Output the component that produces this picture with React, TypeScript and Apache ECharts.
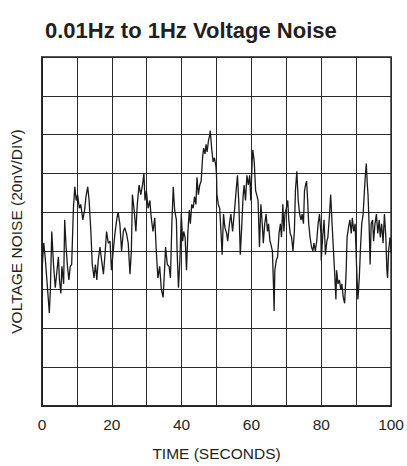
import React, { useEffect, useRef } from "react";
import * as echarts from "echarts";

const TITLE = "0.01Hz to 1Hz Voltage Noise";
const X_NAME = "TIME (SECONDS)";
const Y_NAME = "VOLTAGE NOISE (20nV/DIV)";
const X_LABELS = [0, 20, 40, 60, 80, 100];

const NOISE_0_32: [number, number][] = [
  [0, 70], [0.5, 84], [0.9, 77], [1.4, 65], [2.1, 48], [2.4, 60], [2.8, 90], [3.3, 73], [3.8, 61], [4.3, 70],
  [4.7, 77], [5.0, 65], [5.4, 58], [5.7, 72], [6.2, 63], [6.5, 96], [6.9, 82], [7.3, 72], [7.7, 65], [8.1, 72],
  [8.5, 73], [9.0, 102], [9.4, 113], [9.8, 106], [10.2, 109], [10.7, 102], [11.1, 104], [11.7, 96], [12.2, 101],
  [12.6, 108], [13.1, 113], [13.5, 106], [14.0, 90], [14.4, 73], [14.9, 66], [15.3, 73], [15.7, 65], [16.1, 75],
  [16.6, 82], [17.1, 75], [17.6, 68], [18.0, 77], [18.5, 90], [19.0, 84], [19.5, 85], [19.9, 70], [20.4, 80],
  [20.9, 89], [21.4, 96], [21.8, 100], [22.3, 94], [22.8, 80], [23.3, 90], [23.7, 92], [24.2, 89], [24.7, 84],
  [25.2, 68], [25.6, 80], [25.9, 109], [26.4, 101], [26.9, 90], [27.3, 104], [27.8, 114], [28.3, 109], [28.8, 114],
  [29.2, 120], [29.5, 106], [29.9, 111], [30.4, 102], [30.9, 106], [31.3, 97], [31.8, 90], [32.3, 97],
];
const NOISE_32_65: [number, number][] = [
  [32.8, 78], [33.2, 66], [33.7, 72], [34.2, 60], [34.7, 56], [35.1, 70], [35.4, 82], [35.9, 73], [36.4, 72],
  [36.8, 66], [37.2, 94], [37.6, 113], [38.0, 101], [38.5, 96], [38.7, 80], [39.1, 61], [39.5, 75], [39.9, 99],
  [40.3, 85], [40.6, 90], [41.0, 87], [41.4, 70], [41.8, 90], [42.2, 101], [42.5, 94], [42.9, 104], [43.3, 102],
  [43.7, 108], [44.1, 104], [44.4, 118], [44.8, 109], [45.2, 114], [45.6, 116], [46.0, 128], [46.3, 133],
  [46.7, 130], [47.0, 135], [47.3, 131], [47.7, 137], [48.1, 140], [48.2, 142], [48.6, 133], [49.0, 126],
  [49.4, 128], [49.8, 124], [50.0, 119], [50.1, 109], [50.5, 104], [50.9, 102], [51.3, 89], [51.6, 78], [52.0, 99],
  [52.4, 92], [52.9, 89], [53.2, 85], [53.7, 94], [54.1, 99], [54.6, 90], [54.9, 96], [55.3, 104], [55.7, 113],
  [56.0, 119], [56.4, 104], [56.8, 78], [57.2, 92], [57.6, 108], [57.9, 114], [58.3, 106], [58.7, 119], [59.1, 114],
  [59.5, 119], [59.8, 106], [60.2, 126], [60.4, 132], [60.8, 126], [61.2, 111], [61.5, 109], [61.9, 106],
  [62.3, 82], [62.7, 104], [63.1, 94], [63.4, 84], [63.8, 94], [64.2, 99], [64.6, 90], [64.9, 94], [65.3, 85],
];
const NOISE_65_100: [number, number][] = [
  [65.5, 84], [66.0, 80], [66.3, 63], [66.5, 49], [66.7, 70], [67.1, 75], [67.5, 77], [67.9, 89], [68.3, 94],
  [68.6, 87], [69.0, 104], [69.3, 90], [69.6, 99], [70.0, 102], [70.4, 106], [70.7, 96], [71.1, 89], [71.5, 87],
  [71.9, 80], [72.3, 90], [72.6, 111], [73.0, 121], [73.4, 106], [73.8, 99], [74.2, 96], [74.5, 99], [74.9, 94],
  [75.2, 111], [75.5, 114], [75.8, 116], [76.1, 106], [76.4, 94], [76.8, 87], [77.2, 82], [77.6, 80], [77.9, 84],
  [78.3, 80], [78.7, 85], [79.1, 94], [79.5, 99], [79.9, 89], [80.0, 75], [80.4, 87], [80.8, 96], [81.2, 78],
  [81.6, 85], [81.9, 87], [82.3, 97], [82.7, 109], [83.1, 94], [83.5, 80], [83.8, 70], [84.2, 55], [84.4, 70],
  [84.8, 63], [85.2, 65], [85.6, 60], [85.9, 63], [86.3, 56], [86.7, 53], [87.1, 68], [87.4, 87], [87.8, 92],
  [88.2, 96], [88.6, 89], [88.9, 97], [89.3, 90], [89.7, 94], [90.1, 73], [90.5, 55], [90.9, 66], [91.2, 80],
  [91.6, 94], [92.0, 99], [92.3, 109], [92.6, 118], [92.9, 125], [93.2, 114], [93.4, 109], [93.7, 94], [94.0, 73],
  [94.3, 94], [94.7, 96], [95.0, 85], [95.4, 94], [95.8, 99], [96.2, 89], [96.6, 96], [96.9, 87], [97.3, 94],
  [97.7, 84], [98.1, 99], [98.5, 87], [98.8, 70], [99.0, 66], [99.3, 80], [99.7, 87], [99.9, 84], [100, 79],
];

const FONT = "'Liberation Sans', Arial, sans-serif";

export default function App() {
  const ref = useRef<HTMLDivElement>(null);
  useEffect(() => {
    if (!ref.current) return;
    const chart = echarts.init(ref.current, null, { renderer: "svg" });
    chart.setOption({
      animation: false,
      backgroundColor: "#fff",
      title: {
        text: TITLE,
        left: 40,
        top: 14,
        textStyle: { fontFamily: FONT, fontWeight: "bold", fontSize: 22, color: "#231f20" },
      },
      grid: {
        left: 42,
        top: 57,
        width: 351,
        height: 351,
        show: true,
        borderColor: "#231f20",
        borderWidth: 1.5,
      },
      xAxis: {
        type: "value",
        min: 0,
        max: 100,
        interval: 10,
        name: X_NAME,
        nameLocation: "middle",
        nameGap: 39,
        nameTextStyle: { fontFamily: FONT, fontSize: 15.5, color: "#231f20" },
        axisLine: { show: true, lineStyle: { color: "#231f20", width: 1.5 } },
        axisTick: { show: false },
        axisLabel: {
          margin: 10,
          fontFamily: FONT,
          fontSize: 15.5,
          color: "#231f20",
          formatter: (v: number) => (X_LABELS.includes(v) ? String(v) : ""),
        },
        splitLine: { show: true, lineStyle: { color: "#2a2a2a", width: 1 } },
      },
      yAxis: {
        type: "value",
        min: 0,
        max: 180,
        interval: 20,
        name: Y_NAME,
        nameLocation: "middle",
        nameRotate: 90,
        nameGap: 18,
        nameTextStyle: { fontFamily: FONT, fontSize: 15.5, color: "#231f20" },
        axisLine: { show: true, lineStyle: { color: "#231f20", width: 1.5 } },
        axisTick: { show: false },
        axisLabel: { show: false },
        splitLine: { show: true, lineStyle: { color: "#2a2a2a", width: 1 } },
      },
      series: [
        {
          type: "line",
          data: [...NOISE_0_32, ...NOISE_32_65, ...NOISE_65_100],
          showSymbol: false,
          symbol: "none",
          lineStyle: { color: "#1a1a1a", width: 1.3 },
        },
      ],
    });
    return () => chart.dispose();
  }, []);
  return <div ref={ref} style={{ width: 407, height: 466, position: "absolute", left: 0, top: 0 }} />;
}
